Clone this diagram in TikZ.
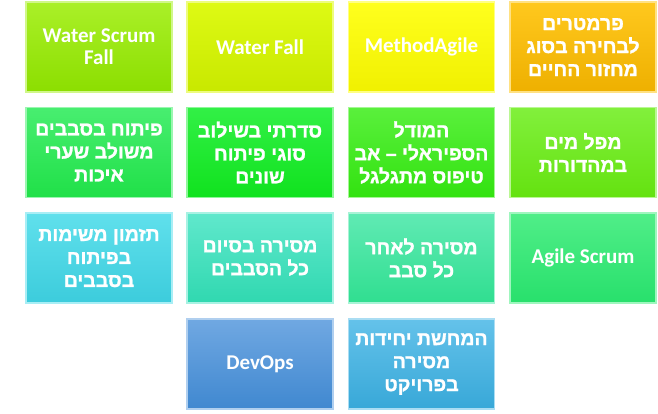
\documentclass[tikz,border=0pt]{standalone}
\usepackage{fontspec}
\setmainfont{Carlito}
\newfontfamily\heb[Script=Hebrew, BoldFont={Liberation Sans Bold}, BoldFeatures={FakeBold=1.2}]{Liberation Sans}
\TeXXeTstate=1
\newcommand{\hl}[1]{\beginR #1\endR}
\definecolor{aT}{HTML}{AAF028}\definecolor{aB}{HTML}{8CDE00}
\definecolor{bT}{HTML}{DEFA14}\definecolor{bB}{HTML}{C8E800}
\definecolor{cT}{HTML}{FFFF1E}\definecolor{cB}{HTML}{F0F000}
\definecolor{dT}{HTML}{FFC81E}\definecolor{dB}{HTML}{EEB000}
\definecolor{eT}{HTML}{48EE70}\definecolor{eB}{HTML}{20E048}
\definecolor{fT}{HTML}{32F046}\definecolor{fB}{HTML}{10E21E}
\definecolor{gT}{HTML}{5AF03C}\definecolor{gB}{HTML}{32E210}
\definecolor{hT}{HTML}{82F03C}\definecolor{hB}{HTML}{64E210}
\definecolor{iT}{HTML}{60E0EC}\definecolor{iB}{HTML}{3CCCDC}
\definecolor{jT}{HTML}{60E8CC}\definecolor{jB}{HTML}{30D8B0}
\definecolor{kT}{HTML}{60EAB4}\definecolor{kB}{HTML}{30DE90}
\definecolor{lT}{HTML}{50EE88}\definecolor{lB}{HTML}{28E06C}
\definecolor{mT}{HTML}{70A8E2}\definecolor{mB}{HTML}{4088D0}
\definecolor{nT}{HTML}{64C2EA}\definecolor{nB}{HTML}{38A8D8}
\tikzset{
  cell/.style 2 args={rectangle, minimum width=146pt, minimum height=90pt, inner sep=0pt,
    top color=#1, bottom color=#2, draw=#1!55!white, line width=1.2pt,
    text=white, align=center},
  lat/.style={font=\bfseries\fontsize{21}{22}\selectfont},
  hebt/.style={font=\heb\bfseries\fontsize{19.5}{23}\selectfont}
}
\begin{document}
\begin{tikzpicture}[x=1pt,y=-1pt]
\useasboundingbox (0,0) rectangle (658,413);
% row 1
\node[cell={aT}{aB}, lat] (wsf) at (99,47) {Water Scrum\\Fall};
\node[cell={bT}{bB}, lat] (wf) at (260,47) {Water Fall};
\node[cell={cT}{cB}, lat] (ma) at (421.5,47) {MethodAgile};
\node[cell={dT}{dB}, hebt] (par) at (583,47) {\hl{פרמטרים}\\\hl{לבחירה בסוג}\\\hl{מחזור החיים}};
% row 2
\node[cell={eT}{eB}, hebt] (pit) at (99,152.5) {\hl{פיתוח בסבבים}\\\hl{משולב שערי}\\\hl{איכות}};
\node[cell={fT}{fB}, hebt] (sid) at (260,152.5) {\hl{סדרתי בשילוב}\\\hl{סוגי פיתוח}\\\hl{שונים}};
\node[cell={gT}{gB}, hebt] (spi) at (421.5,152.5) {\hl{המודל}\\\hl{הספיראלי – אב}\\\hl{טיפוס מתגלגל}};
\node[cell={hT}{hB}, hebt] (map) at (583,152.5) {\hl{מפל מים}\\\hl{במהדורות}};
% row 3
\node[cell={iT}{iB}, hebt] (tiz) at (99,258) {\hl{תזמון משימות}\\\hl{בפיתוח}\\\hl{בסבבים}};
\node[cell={jT}{jB}, hebt] (msi) at (260,258) {\hl{מסירה בסיום}\\\hl{כל הסבבים}};
\node[cell={kT}{kB}, hebt] (mla) at (421.5,258) {\hl{מסירה לאחר}\\\hl{כל סבב}};
\node[cell={lT}{lB}, lat] (as) at (583,258) {Agile Scrum};
% row 4
\node[cell={mT}{mB}, lat] (dev) at (260,364) {DevOps};
\node[cell={nT}{nB}, hebt] (ham) at (421.5,364) {\hl{המחשת יחידות}\\\hl{מסירה}\\\hl{בפרויקט}};
\end{tikzpicture}
\end{document}
